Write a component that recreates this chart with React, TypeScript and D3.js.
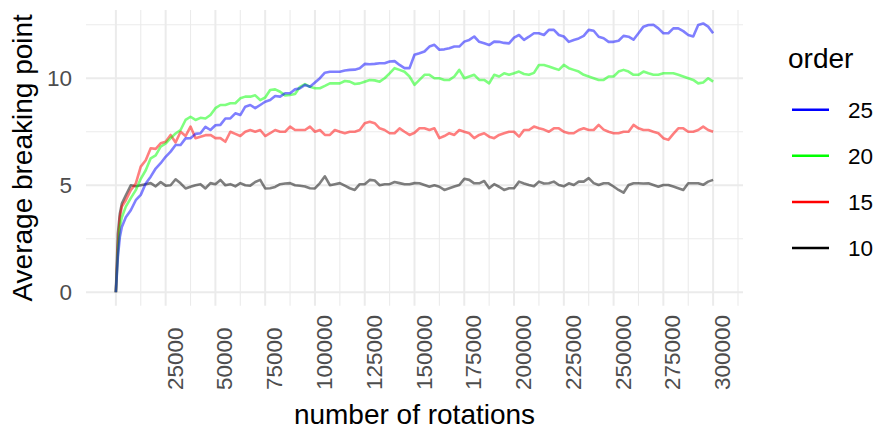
import React from 'react';
import * as d3 from 'd3';

// sampled number of rotations
const rotations = [
  0, 1000, 2000, 3000, 5000, 7500, 10000,
  12500, 15000, 17500, 20000, 22500, 25000, 27500, 30000, 32500, 35000,
  37500, 40000, 42500, 45000, 47500, 50000, 52500, 55000, 57500, 60000,
  62500, 65000, 67500, 70000, 72500, 75000, 77500, 80000, 82500, 85000,
  87500, 90000, 92500, 95000, 97500, 100000, 102500, 105000, 107500, 110000,
  112500, 115000, 117500, 120000, 122500, 125000, 127500, 130000, 132500, 135000,
  137500, 140000, 142500, 145000, 147500, 150000, 152500, 155000, 157500, 160000,
  162500, 165000, 167500, 170000, 172500, 175000, 177500, 180000, 182500, 185000,
  187500, 190000, 192500, 195000, 197500, 200000, 202500, 205000, 207500, 210000,
  212500, 215000, 217500, 220000, 222500, 225000, 227500, 230000, 232500, 235000,
  237500, 240000, 242500, 245000, 247500, 250000, 252500, 255000, 257500, 260000,
  262500, 265000, 267500, 270000, 272500, 275000, 277500, 280000, 282500, 285000,
  287500, 290000, 292500, 295000, 297500, 300000,
];

// average breaking point per order
const order10 = [
  0, 2.73, 3.67, 4.14, 4.53, 5.0, 4.95,
  5.0, 5.05, 5.1, 4.95, 5.15, 4.98, 5.0, 5.28, 5.09, 4.85,
  4.93, 5.0, 5.05, 4.85, 5.1, 5.05, 5.25, 5.0, 5.05, 4.95,
  5.1, 5.0, 4.98, 5.15, 5.25, 4.85, 4.86, 4.92, 5.05, 5.08,
  5.1, 5.0, 4.98, 4.94, 4.86, 4.85, 5.1, 5.42, 5.0, 5.05,
  5.1, 4.98, 4.86, 4.78, 5.05, 5.05, 5.25, 5.22, 5.0, 5.05,
  5.05, 5.15, 5.1, 5.05, 5.05, 5.1, 5.09, 5.01, 4.93, 5.0,
  4.93, 4.78, 4.86, 4.94, 5.01, 5.3, 5.25, 5.09, 5.09, 5.2,
  4.86, 5.05, 4.93, 4.78, 4.86, 4.86, 5.17, 5.08, 5.01, 4.95,
  5.17, 5.08, 5.09, 5.17, 5.01, 4.95, 5.09, 5.01, 5.17, 5.17,
  5.33, 5.1, 5.01, 5.09, 5.09, 4.94, 4.78, 4.65, 5.01, 5.09,
  5.09, 5.08, 5.09, 5.01, 4.93, 5.01, 5.01, 4.94, 4.86, 4.78,
  5.09, 5.09, 5.09, 5.02, 5.17, 5.25,
];
const order15 = [
  0, 2.1, 3.5, 4.0, 4.3, 4.77, 5.08,
  5.87, 6.17, 6.73, 6.7, 6.96, 7.03, 7.35, 7.0, 7.5, 7.3,
  7.74, 7.2, 7.27, 7.34, 7.35, 7.2, 7.2, 7.03, 7.5, 7.4,
  7.3, 7.5, 7.58, 7.5, 7.58, 7.3, 7.43, 7.58, 7.5, 7.5,
  7.74, 7.58, 7.58, 7.58, 7.74, 7.5, 7.58, 7.35, 7.35, 7.58,
  7.5, 7.43, 7.5, 7.5, 7.58, 7.9, 7.97, 7.9, 7.66, 7.58,
  7.43, 7.43, 7.66, 7.5, 7.35, 7.45, 7.66, 7.66, 7.58, 7.66,
  7.2, 7.3, 7.43, 7.35, 7.58, 7.5, 7.43, 7.2, 7.35, 7.43,
  7.27, 7.2, 7.35, 7.43, 7.5, 7.5, 7.27, 7.58, 7.58, 7.74,
  7.66, 7.6, 7.5, 7.66, 7.66, 7.5, 7.43, 7.43, 7.58, 7.66,
  7.58, 7.58, 7.82, 7.6, 7.5, 7.43, 7.43, 7.5, 7.5, 7.82,
  7.66, 7.58, 7.58, 7.5, 7.43, 7.2, 7.12, 7.4, 7.66, 7.66,
  7.5, 7.5, 7.58, 7.74, 7.58, 7.5,
];
const order20 = [
  0, 1.8, 3.05, 3.5, 4.0, 4.4, 4.77,
  5.3, 5.7, 6.26, 6.4, 6.8, 6.95, 7.2, 7.42, 7.58, 8.05,
  8.2, 8.05, 8.15, 8.12, 8.28, 8.6, 8.75, 8.75, 8.83, 8.83,
  9.06, 9.14, 9.14, 9.2, 8.98, 9.1, 9.45, 9.48, 9.37, 9.2,
  9.22, 9.26, 9.6, 9.73, 9.6, 9.53, 9.53, 9.64, 9.76, 9.76,
  9.76, 9.87, 9.84, 9.73, 9.76, 9.84, 9.92, 9.9, 9.84, 10.0,
  10.23, 10.47, 10.39, 10.3, 10.08, 9.69, 9.92, 10.16, 10.16, 10.0,
  10.0, 9.92, 9.92, 10.08, 10.39, 10.0, 10.08, 10.16, 9.92, 9.92,
  9.76, 10.16, 10.08, 10.23, 10.16, 10.23, 10.31, 10.2, 10.16, 10.25,
  10.62, 10.62, 10.55, 10.47, 10.39, 10.62, 10.47, 10.39, 10.31, 10.16,
  10.08, 10.0, 9.92, 9.92, 10.08, 10.08, 10.31, 10.39, 10.31, 10.16,
  10.16, 10.31, 10.23, 10.16, 10.16, 10.23, 10.23, 10.23, 10.16, 10.08,
  10.0, 9.92, 9.76, 9.8, 10.0, 9.84,
];
const order25 = [
  0, 1.64, 2.58, 3.05, 3.5, 3.83, 4.3,
  4.55, 5.08, 5.4, 5.78, 6.03, 6.33, 6.57, 6.88, 6.88, 7.19,
  7.2, 7.4, 7.43, 7.73, 7.58, 7.8, 7.82, 8.12, 8.12, 8.36,
  8.28, 8.67, 8.75, 8.6, 8.75, 8.9, 8.98, 9.17, 9.14, 9.3,
  9.3, 9.48, 9.53, 9.69, 9.6, 9.8, 10.0, 10.26, 10.3, 10.3,
  10.3, 10.36, 10.39, 10.4, 10.47, 10.67, 10.65, 10.67, 10.7, 10.7,
  10.78, 10.8, 10.62, 10.47, 10.47, 11.1, 11.17, 11.25, 11.48, 11.56,
  11.33, 11.35, 11.4, 11.48, 11.48, 11.71, 11.79, 11.95, 11.7, 11.63,
  11.55, 11.71, 11.7, 11.65, 11.63, 11.9, 12.02, 11.79, 11.94, 12.1,
  12.1, 12.02, 12.26, 12.26, 12.02, 11.95, 11.7, 11.79, 11.86, 11.98,
  12.26, 12.22, 11.94, 11.87, 11.7, 11.7, 11.75, 11.98, 11.94, 11.8,
  12.1, 12.41, 12.49, 12.5, 12.33, 12.1, 12.1, 12.33, 12.33, 12.2,
  12.02, 11.95, 12.49, 12.56, 12.41, 12.1,
];

const orders = ['10', '15', '20', '25'];
const orderColors = ['#000000', '#FF0000', '#00FF00', '#0000FF'];
const seriesValues = [order10, order15, order20, order25];

const xBreaks = [25000, 50000, 75000, 100000, 125000, 150000, 175000, 200000, 225000, 250000, 275000, 300000];
const xMinor = [12500, 37500, 62500, 87500, 112500, 137500, 162500, 187500, 212500, 237500, 262500, 287500, 312500];
const yBreaks = [0, 5, 10];
const yMinor = [2.5, 7.5, 12.5];

const FONT = '"Liberation Sans", Arial, sans-serif';

const App = () => {
  const width = 878;
  const height = 435;
  const panel = { left: 86, right: 743, top: 10, bottom: 305.7 };

  // ggplot-style 5% expansion on both axes
  const xExt = d3.extent(rotations) as [number, number];
  const xPad = (xExt[1] - xExt[0]) * 0.05;
  const x = d3.scaleLinear().domain([xExt[0] - xPad, xExt[1] + xPad]).range([panel.left, panel.right]);

  const yExt = d3.extent(seriesValues.flat()) as [number, number];
  const yPad = (yExt[1] - yExt[0]) * 0.05;
  const y = d3.scaleLinear().domain([yExt[0] - yPad, yExt[1] + yPad]).range([panel.bottom, panel.top]);

  const line = d3.line<number>()
    .x((_, i) => x(rotations[i]))
    .y(d => y(d));

  const legendY = [109.7, 155.7, 202, 248];

  return (
    <svg width={width} height={height} style={{ position: 'absolute', left: 0, top: 0, background: '#fff' }}>
      {/* grid */}
      <g stroke="#EBEBEB" fill="none">
        {yMinor.map(v => (
          <line key={'ym' + v} x1={panel.left} x2={panel.right} y1={y(v)} y2={y(v)} strokeWidth={1.1} />
        ))}
        {xMinor.map(v => (
          <line key={'xm' + v} y1={panel.top} y2={panel.bottom} x1={x(v)} x2={x(v)} strokeWidth={1.1} />
        ))}
        {yBreaks.map(v => (
          <line key={'y' + v} x1={panel.left} x2={panel.right} y1={y(v)} y2={y(v)} strokeWidth={2} />
        ))}
        {[0, ...xBreaks].map(v => (
          <line key={'x' + v} y1={panel.top} y2={panel.bottom} x1={x(v)} x2={x(v)} strokeWidth={2} />
        ))}
      </g>

      {/* series */}
      <g fill="none" strokeWidth={2.6} strokeLinejoin="round" strokeOpacity={0.5}>
        {seriesValues.map((vals, i) => (
          <path key={orders[i]} d={line(vals) ?? ''} stroke={orderColors[i]} />
        ))}
      </g>

      {/* y axis */}
      <g fontFamily={FONT} fontSize={22.5} fill="#4D4D4D" textAnchor="end">
        {yBreaks.map(v => (
          <text key={v} x={72} y={y(v)} dy="0.36em">{v}</text>
        ))}
      </g>
      <text
        transform={`translate(32,${(panel.top + panel.bottom) / 2}) rotate(-90)`}
        textAnchor="middle" fontFamily={FONT} fontSize={28} fill="#000"
      >Average breaking point</text>

      {/* x axis */}
      <g fontFamily={FONT} fontSize={22.5} fill="#4D4D4D">
        {xBreaks.map(v => (
          <text key={v} transform={`translate(${x(v) + 17},390) rotate(-90)`} textAnchor="start">{v}</text>
        ))}
      </g>
      <text x={(panel.left + panel.right) / 2} y={424} textAnchor="middle" fontFamily={FONT} fontSize={28} fill="#000">
        number of rotations
      </text>

      {/* legend */}
      <text x={788} y={68} fontFamily={FONT} fontSize={28} fill="#000">order</text>
      {[3, 2, 1, 0].map((si, k) => (
        <g key={orders[si]}>
          <line x1={792} x2={829} y1={legendY[k]} y2={legendY[k]} stroke={orderColors[si]} strokeWidth={2.6} />
          <text x={848} y={legendY[k]} dy="0.36em" fontFamily={FONT} fontSize={22.5} fill="#000">{orders[si]}</text>
        </g>
      ))}
    </svg>
  );
};

export default App;
